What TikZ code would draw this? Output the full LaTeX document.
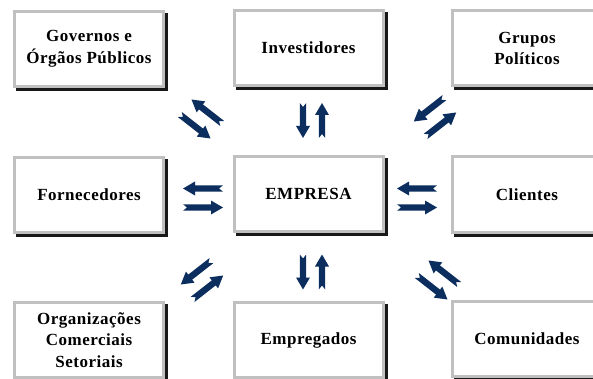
\documentclass[tikz,border=0pt]{standalone}
\usepackage{fontspec}
\setmainfont{Liberation Serif}[LetterSpace=3]
\definecolor{arrowc}{RGB}{12,46,94}
\definecolor{boxgray}{RGB}{192,192,192}
\definecolor{shadowc}{RGB}{25,25,25}
\newcommand\pairarrows[4]{%
  \foreach \a in {#3, #3+180} {
    \fill[arrowc, shift={(#1,-#2)}, rotate=\a, shift={(0,-9.5)}]
      (-#4,-3.2) -- (#4-12,-3.2) -- (#4-12,-7) -- (#4,0) -- (#4-12,7)
      -- (#4-12,3.2) -- (-#4,3.2) -- (-#4+4,0) -- cycle;
  }}
\tikzset{
  box/.style={rectangle, draw=boxgray, line width=3pt, fill=white,
    minimum width=149pt, minimum height=75pt, inner sep=0pt, align=center,
    font=\fontsize{17}{21.5}\selectfont\bfseries,
    preaction={draw=shadowc, fill=shadowc, line width=3pt,
      transform canvas={shift={(3pt,-3pt)}}}}
}
\begin{document}
\begin{tikzpicture}[x=1pt,y=1pt]
\useasboundingbox (0,0) rectangle (593,-379);
\clip (0,0) rectangle (593,-379);
\node[box] (gov) at (89,-49) {Governos e\\Órgãos Públicos};
\node[box] (inv) at (308.5,-48) {Investidores};
\node[box] (grp) at (527,-48.5) {Grupos\\Políticos};
\node[box] (forn) at (89,-195) {Fornecedores};
\node[box] (emp) at (308.5,-194) {EMPRESA};
\node[box] (cli) at (527,-194.5) {Clientes};
\node[box] (org) at (89,-340) {Organizações\\Comerciais\\Setoriais};
\node[box] (empg) at (308.5,-340) {Empregados};
\node[box] (com) at (527,-339) {Comunidades};
% arrow pairs
\pairarrows{201}{119}{142}{19.5}
\pairarrows{312.5}{120.5}{90}{17.5}
\pairarrows{435}{117}{38}{19.5}
\pairarrows{203}{198}{180}{20}
\pairarrows{417}{198}{180}{20}
\pairarrows{202}{280}{218}{19.5}
\pairarrows{312.5}{272}{90}{17.5}
\pairarrows{438}{280}{142}{19.5}
\end{tikzpicture}
\end{document}
